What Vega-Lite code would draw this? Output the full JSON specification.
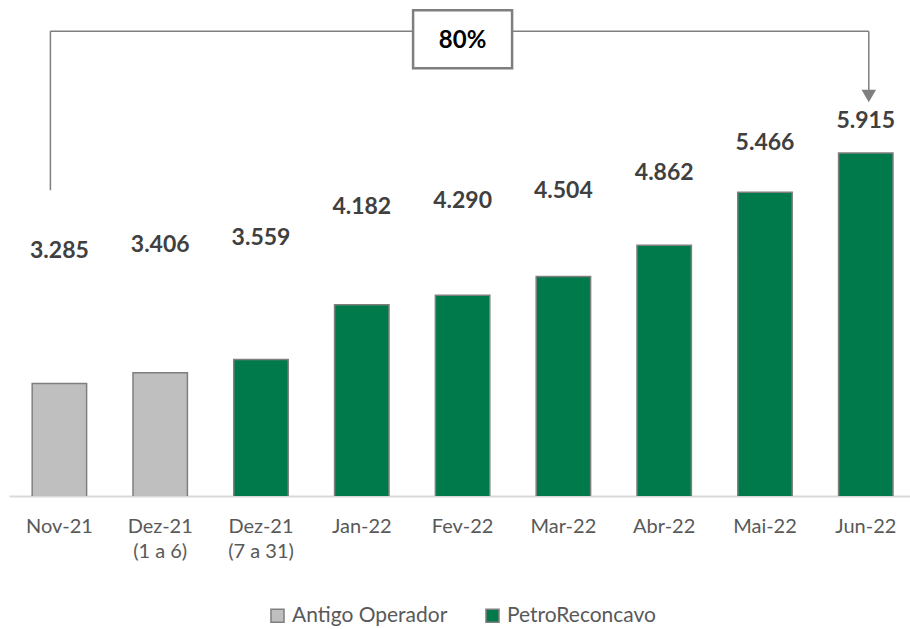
{
  "$schema": "https://vega.github.io/schema/vega-lite/v6.json",
  "width": {"step": 100.8},
  "height": 488,
  "padding": {"left": 9, "top": 5, "right": 0, "bottom": 0},
  "config": {"view": {"stroke": null}, "font": "Lato"},
  "resolve": {"scale": {"y": "independent"}},
  "layer": [
    {
      "data": {"values": [
        {"mes": "Nov-21", "valor": 3.285, "operador": "Antigo Operador"},
        {"mes": "Dez-21 (1 a 6)", "valor": 3.406, "operador": "Antigo Operador"},
        {"mes": "Dez-21 (7 a 31)", "valor": 3.559, "operador": "PetroReconcavo"},
        {"mes": "Jan-22", "valor": 4.182, "operador": "PetroReconcavo"},
        {"mes": "Fev-22", "valor": 4.290, "operador": "PetroReconcavo"},
        {"mes": "Mar-22", "valor": 4.504, "operador": "PetroReconcavo"},
        {"mes": "Abr-22", "valor": 4.862, "operador": "PetroReconcavo"},
        {"mes": "Mai-22", "valor": 5.466, "operador": "PetroReconcavo"},
        {"mes": "Jun-22", "valor": 5.915, "operador": "PetroReconcavo"}
      ]},
      "resolve": {"scale": {"y": "independent"}},
      "layer": [
        {
          "mark": {"type": "bar", "stroke": "#7F7F7F", "strokeWidth": 1.5, "clip": true},
          "encoding": {
            "x": {"field": "mes", "type": "nominal", "sort": null,
              "scale": {"paddingInner": 0.46, "paddingOuter": 0.23},
              "axis": {"title": null, "domainColor": "#D9D9D9", "domainWidth": 2, "ticks": false,
                "labelFontSize": 20, "labelColor": "#595959", "labelPadding": 21, "labelLineHeight": 25,
                "labelAngle": 0, "labelFont": "Lato",
                "labelExpr": "indexof(datum.label, ' (') > 0 ? [slice(datum.label, 0, indexof(datum.label, ' (')), slice(datum.label, indexof(datum.label, ' (') + 1)] : datum.label"}},
            "y": {"field": "valor", "type": "quantitative", "scale": {"domain": [2, 7.57], "nice": false, "zero": false}, "axis": null},
            "color": {"field": "operador", "type": "nominal",
              "scale": {"domain": ["Antigo Operador", "PetroReconcavo"], "range": ["#BFBFBF", "#007A4B"]},
              "legend": {"orient": "none", "direction": "horizontal", "legendX": 258, "legendY": 597, "title": null, "symbolType": "square", "symbolSize": 170,
                "symbolStrokeColor": "#7F7F7F", "symbolStrokeWidth": 1.5, "labelFontSize": 21,
                "labelColor": "#595959", "columnPadding": 34, "labelOffset": 4, "labelFont": "Lato"}}
          }
        },
        {
          "mark": {"type": "text", "fontWeight": "bold", "fontSize": 23, "color": "#404040", "baseline": "middle"},
          "encoding": {
            "x": {"field": "mes", "type": "nominal", "sort": null},
            "y": {"field": "valor", "type": "quantitative", "scale": {"domain": [-1.639, 8.18], "nice": false, "zero": false}, "axis": null},
            "text": {"field": "valor", "type": "quantitative", "format": ".3f"}
          }
        }
      ]
    },
    {
      "data": {"values": [{"mes": "Nov-21", "base": 5.49, "topo": 7.306}]},
      "mark": {"type": "rule", "color": "#7F7F7F", "strokeWidth": 1.5, "xOffset": -9},
      "encoding": {
        "x": {"field": "mes", "type": "nominal", "sort": null},
        "y": {"field": "base", "type": "quantitative", "scale": {"domain": [2, 7.57], "nice": false, "zero": false}, "axis": null},
        "y2": {"field": "topo"}
      }
    },
    {
      "data": {"values": [{"mes": "Nov-21", "fim": "Jun-22", "topo": 7.306}]},
      "mark": {"type": "rule", "color": "#7F7F7F", "strokeWidth": 1.5, "xOffset": -9, "x2Offset": 3},
      "encoding": {
        "x": {"field": "mes", "type": "nominal", "sort": null},
        "x2": {"field": "fim"},
        "y": {"field": "topo", "type": "quantitative", "scale": {"domain": [2, 7.57], "nice": false, "zero": false}, "axis": null}
      }
    },
    {
      "data": {"values": [{"mes": "Jun-22", "topo": 7.306, "ponta": 6.6}]},
      "mark": {"type": "rule", "color": "#7F7F7F", "strokeWidth": 1.5, "xOffset": 3},
      "encoding": {
        "x": {"field": "mes", "type": "nominal", "sort": null},
        "y": {"field": "topo", "type": "quantitative", "scale": {"domain": [2, 7.57], "nice": false, "zero": false}, "axis": null},
        "y2": {"field": "ponta"}
      }
    },
    {
      "data": {"values": [{"mes": "Jun-22", "ponta": 6.565}]},
      "mark": {"type": "point", "shape": "triangle-down", "size": 210, "filled": true, "color": "#7F7F7F", "opacity": 1, "xOffset": 3},
      "encoding": {
        "x": {"field": "mes", "type": "nominal", "sort": null},
        "y": {"field": "ponta", "type": "quantitative", "scale": {"domain": [2, 7.57], "nice": false, "zero": false}, "axis": null}
      }
    },
    {
      "data": {"values": [{"mes": "Fev-22", "caixa": 7.214, "rotulo": "80%"}]},
      "layer": [
        {
          "mark": {"type": "point", "shape": "M-1,-0.586H1V0.586H-1Z", "size": 9801, "filled": true, "fill": "white", "stroke": "#7F7F7F", "strokeWidth": 2.5, "opacity": 1},
          "encoding": {
            "x": {"field": "mes", "type": "nominal", "sort": null},
            "y": {"field": "caixa", "type": "quantitative", "scale": {"domain": [2, 7.57], "nice": false, "zero": false}, "axis": null}
          }
        },
        {
          "mark": {"type": "text", "fontWeight": "bold", "fontSize": 24, "color": "#000000", "baseline": "middle", "dy": 2},
          "encoding": {
            "x": {"field": "mes", "type": "nominal", "sort": null},
            "y": {"field": "caixa", "type": "quantitative", "scale": {"domain": [2, 7.57], "nice": false, "zero": false}, "axis": null},
            "text": {"field": "rotulo"}
          }
        }
      ]
    }
  ]
}
